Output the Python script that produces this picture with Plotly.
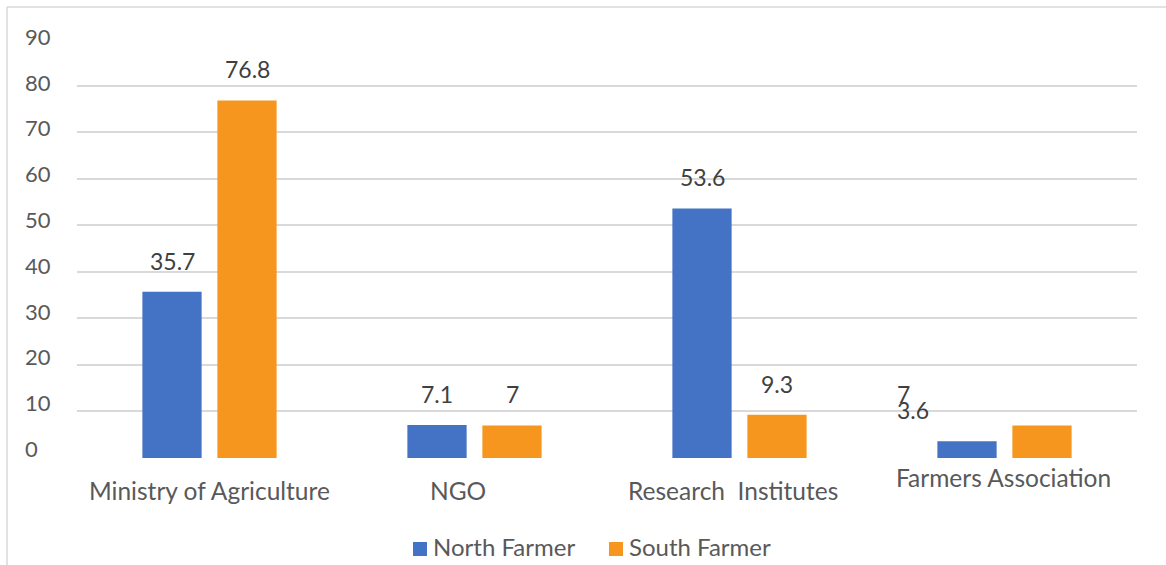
import plotly.graph_objects as go

categories = ["Ministry of Agriculture", "NGO", "Research  Institutes", "Farmers Association"]
north_farmer = [35.7, 7.1, 53.6, 3.6]
south_farmer = [76.8, 7, 9.3, 7]
y_ticks = [0, 10, 20, 30, 40, 50, 60, 70, 80, 90]
series_names = ["North Farmer", "South Farmer"]

BLUE = "#4472C4"
ORANGE = "#F7961F"
GRID = "#D9D9D9"
TXT = "#595959"
LBL = "#404040"
FONT = "Lato"

# plot-area geometry helpers (pixels -> paper)
L, R, T, B, W, H = 77, 29, 39, 107, 1166, 565
PW, PH = W - L - R, H - T - B


def px_x(px):
    return (px - L) / PW


def px_y(py):
    return (H - B - py) / PH


fig = go.Figure()
fig.add_trace(go.Bar(name=series_names[0], x=categories, y=north_farmer,
                     marker=dict(color=BLUE, line=dict(width=0))))
fig.add_trace(go.Bar(name=series_names[1], x=categories, y=south_farmer,
                     marker=dict(color=ORANGE, line=dict(width=0))))

ann = []
# data labels
slot = 37.5
for i, c in enumerate(categories):
    for vals, dx in ((north_farmer, -slot), (south_farmer, slot)):
        v = vals[i]
        if c == "Farmers Association":
            ann.append(dict(x=c, y=v, xref="x", yref="y", text=f"{v:g}", showarrow=False,
                            xanchor="left", yanchor="middle", xshift=-110, yshift=31,
                            font=dict(family=FONT, size=23, color=LBL)))
        else:
            ann.append(dict(x=c, y=v, xref="x", yref="y", text=f"{v:g}", showarrow=False,
                            xanchor="center", yanchor="middle", xshift=dx, yshift=31,
                            font=dict(family=FONT, size=23, color=LBL)))

# category labels
cat_shift = {"Ministry of Agriculture": (0, -32), "NGO": (-17, -32),
             "Research  Institutes": (-6.5, -32), "Farmers Association": (-1.5, -19)}
for c in categories:
    dx, dy = cat_shift[c]
    ann.append(dict(x=c, y=0, xref="x", yref="y", text=c.replace("  ", "&nbsp; "), showarrow=False,
                    xanchor="center", yanchor="middle", xshift=dx, yshift=dy,
                    font=dict(family=FONT, size=24.5, color=TXT)))

# y tick labels (left aligned)
for v in y_ticks:
    ann.append(dict(x=px_x(23), y=v, xref="paper", yref="y", text=str(v), showarrow=False,
                    xanchor="left", yanchor="middle", yshift=9.5 - v / 90 * 6.7,
                    font=dict(family=FONT, size=22, color=TXT)))

# legend (drawn manually to match spacing)
shapes = []
legend_pos = [(413, 609), (BLUE, ORANGE)]
for name, sx, col in zip(series_names, legend_pos[0], legend_pos[1]):
    shapes.append(dict(type="rect", xref="paper", yref="paper",
                       x0=px_x(sx), x1=px_x(sx + 14), y0=px_y(556), y1=px_y(542),
                       fillcolor=col, line=dict(width=0)))
    ann.append(dict(x=px_x(sx + 18), y=px_y(546.5), xref="paper", yref="paper", text=name,
                    showarrow=False, xanchor="left", yanchor="middle",
                    font=dict(family=FONT, size=24, color=TXT)))

# chart border (left and top edges visible)
shapes += [
    dict(type="line", xref="paper", yref="paper", x0=px_x(7), x1=px_x(7),
         y0=px_y(7), y1=px_y(620), line=dict(color=GRID, width=1.5)),
    dict(type="line", xref="paper", yref="paper", x0=px_x(7), x1=px_x(1220),
         y0=px_y(7), y1=px_y(7), line=dict(color=GRID, width=1.5)),
]

fig.update_layout(
    width=W, height=H,
    margin=dict(l=L, r=R, t=T, b=B, pad=0, autoexpand=False),
    paper_bgcolor="white", plot_bgcolor="white",
    barmode="group", bargap=0.434, bargroupgap=0.21,
    font=dict(family=FONT, color=TXT),
    showlegend=False,
    annotations=ann,
    shapes=shapes,
)
fig.update_xaxes(showticklabels=False, showgrid=False, zeroline=False, showline=False, ticks="")
fig.update_yaxes(range=[0, 90], tickvals=y_ticks, showticklabels=False, showgrid=True,
                 gridcolor=GRID, gridwidth=2, zeroline=False, showline=False, ticks="")

fig.write_html("out.html")
